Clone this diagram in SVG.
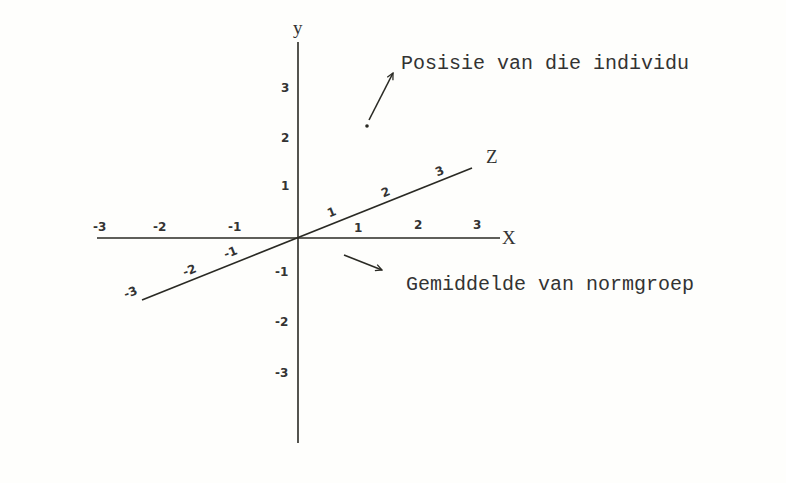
<svg xmlns="http://www.w3.org/2000/svg" width="786" height="483" viewBox="0 0 786 483">
<style>
.ax{stroke:#2a2a24;stroke-width:1.6;fill:none}
.ar{stroke:#2a2a24;stroke-width:1.6;fill:none}
.t{font-family:"DejaVu Sans",sans-serif;font-size:12px;font-weight:bold;fill:#333}
.lab{font-family:"Liberation Mono","Courier New",monospace;font-size:20px;fill:#333}
.axl{font-family:"Liberation Serif",serif;font-size:19px;fill:#333}
</style>
<defs>
<marker id="ah" viewBox="0 0 10 10" refX="9" refY="5" markerWidth="8" markerHeight="8" orient="auto" markerUnits="userSpaceOnUse">
<path d="M1,1 L9,5 L1,9" fill="none" stroke="#2a2a24" stroke-width="1.6"/>
</marker>
</defs>
<rect width="786" height="483" fill="#fefefc"/>
<g id="connectors">
<line class="ax" x1="298" y1="42" x2="298" y2="443"/>
<line class="ax" x1="97" y1="238" x2="500" y2="238"/>
<line class="ax" x1="142" y1="300" x2="472" y2="168"/>
<line class="ar" x1="369" y1="120" x2="393" y2="73" marker-end="url(#ah)"/>
<line class="ar" x1="344" y1="255" x2="382" y2="270" marker-end="url(#ah)"/>
</g>
<g id="axis-labels">
<text class="axl" x="293" y="34">y</text>
<text class="axl" x="502" y="244">X</text>
<text class="axl" x="486" y="163">Z</text>
</g>
<g id="y-ticks">
<text class="t" x="281" y="92">3</text>
<text class="t" x="281" y="142">2</text>
<text class="t" x="281" y="190">1</text>
<text class="t" x="275" y="276">-1</text>
<text class="t" x="275" y="326">-2</text>
<text class="t" x="275" y="377">-3</text>
</g>
<g id="x-ticks">
<text class="t" x="93" y="231">-3</text>
<text class="t" x="153" y="231">-2</text>
<text class="t" x="228" y="231">-1</text>
<text class="t" x="354" y="232">1</text>
<text class="t" x="414" y="229">2</text>
<text class="t" x="473" y="229">3</text>
</g>
<g id="z-ticks">
<text class="t" transform="translate(333,216) rotate(-22)" text-anchor="middle">1</text>
<text class="t" transform="translate(387,196) rotate(-22)" text-anchor="middle">2</text>
<text class="t" transform="translate(441,175) rotate(-22)" text-anchor="middle">3</text>
<text class="t" transform="translate(232,256) rotate(-22)" text-anchor="middle">-1</text>
<text class="t" transform="translate(191,274) rotate(-22)" text-anchor="middle">-2</text>
<text class="t" transform="translate(132,296) rotate(-22)" text-anchor="middle">-3</text>
</g>
<g id="individual">
<circle cx="367" cy="126" r="1.8" fill="#2a2a24"/>
<text class="lab" x="401" y="69">Posisie van die individu</text>
</g>
<g id="normgroup">
<text class="lab" x="406" y="290">Gemiddelde van normgroep</text>
</g>
</svg>
